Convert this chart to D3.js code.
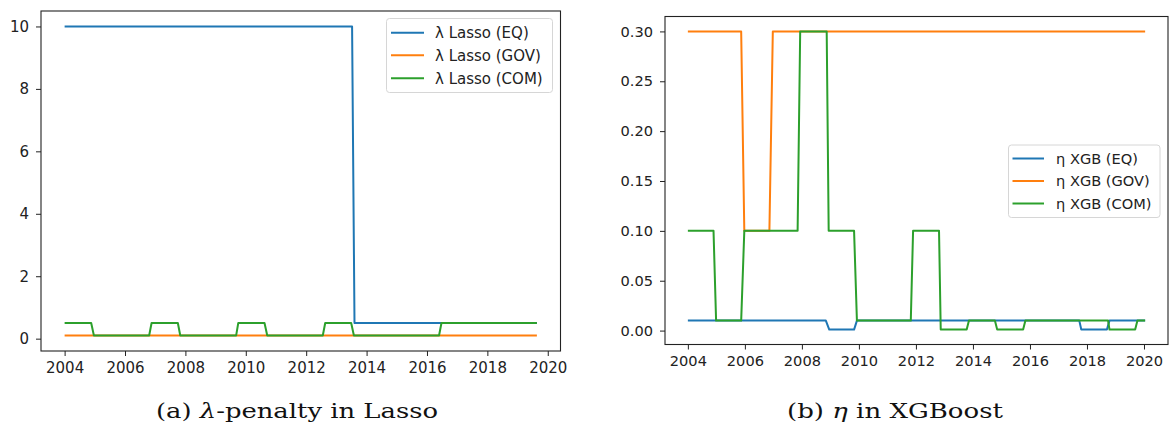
<!DOCTYPE html>
<html>
<head>
<meta charset="utf-8">
<script src="https://cdn.jsdelivr.net/npm/d3@7"></script>
<style>
  html, body { margin: 0; padding: 0; background: #fff; }
  svg { display: block; }
  .tick text { font-family: "DejaVu Sans", sans-serif; fill: #222; }
  .tick line { stroke: #222; }
</style>
</head>
<body>
<svg id="chart" width="1176" height="426"></svg>
<script>
// ---------------- DATA ----------------
// Panel (a): λ-penalty in Lasso — breakpoints (decimal year, value)
const lassoEQYears  = [2004.00, 2013.52, 2013.60, 2019.64];
const lassoEQValues = [10, 10, 0.5, 0.5];
const lassoGOVYears  = [2004.00, 2019.64];
const lassoGOVValues = [0.1, 0.1];
const lassoCOMYears  = [2004.00, 2004.88, 2004.97, 2006.80, 2006.88, 2007.75, 2007.83, 2009.68, 2009.75,
                        2010.62, 2010.71, 2012.55, 2012.63, 2013.49, 2013.58, 2016.40, 2016.48, 2019.64];
const lassoCOMValues = [0.5, 0.5, 0.1, 0.1, 0.5, 0.5, 0.1, 0.1, 0.5,
                        0.5, 0.1, 0.1, 0.5, 0.5, 0.1, 0.1, 0.5, 0.5];

// Panel (b): η in XGBoost — breakpoints (decimal year, value)
const xgbEQYears  = [2004.00, 2008.84, 2008.96, 2009.83, 2009.93, 2017.73, 2017.80, 2018.70, 2018.79, 2020.04];
const xgbEQValues = [0.01, 0.01, 0.001, 0.001, 0.01, 0.01, 0.001, 0.001, 0.01, 0.01];
const xgbGOVYears  = [2004.00, 2005.87, 2005.98, 2006.86, 2006.98, 2020.04];
const xgbGOVValues = [0.3, 0.3, 0.1, 0.1, 0.3, 0.3];
const xgbCOMYears  = [2004.00, 2004.90, 2004.99, 2005.87, 2005.98, 2007.85, 2007.94, 2008.87, 2008.94,
                      2009.83, 2009.93, 2011.82, 2011.90, 2012.81, 2012.87, 2013.78, 2013.86, 2014.77,
                      2014.85, 2015.76, 2015.84, 2018.74, 2018.79, 2019.69, 2019.77, 2020.04];
const xgbCOMValues = [0.1, 0.1, 0.01, 0.01, 0.1, 0.1, 0.3, 0.3, 0.1,
                      0.1, 0.01, 0.01, 0.1, 0.1, 0.001, 0.001, 0.01, 0.01,
                      0.001, 0.001, 0.01, 0.01, 0.001, 0.001, 0.01, 0.01];

// Tick labels
const xTickYears = [2004, 2006, 2008, 2010, 2012, 2014, 2016, 2018, 2020];
const lassoYTicks = [0, 2, 4, 6, 8, 10];
const xgbYTicks = [0.00, 0.05, 0.10, 0.15, 0.20, 0.25, 0.30];

// Legend labels
const lassoLabels = ["λ Lasso (EQ)", "λ Lasso (GOV)", "λ Lasso (COM)"];
const xgbLabels = ["η XGB (EQ)", "η XGB (GOV)", "η XGB (COM)"];
const seriesColors = ["#1f77b4", "#ff7f0e", "#2ca02c"];

// ---------------- DRAW ----------------
const svg = d3.select("#chart");

function zip(xs, ys) { return xs.map((x, i) => ({ x: x, y: ys[i] })); }

function panel(cfg) {
  const { left, right, top, bottom, xDomain, yDomain, series, yTicks, yFormat, fontSize,
          legend, labels, caption } = cfg;
  const x = d3.scaleLinear().domain(xDomain).range([left, right]);
  const y = d3.scaleLinear().domain(yDomain).range([bottom, top]);
  const g = svg.append("g");

  // lines
  const line = d3.line().x(d => x(d.x)).y(d => y(d.y));
  series.forEach((s, i) => {
    g.append("path")
      .datum(s)
      .attr("d", line)
      .attr("fill", "none")
      .attr("stroke", seriesColors[i])
      .attr("stroke-width", 2)
      .attr("stroke-linejoin", "round");
  });

  // axes
  const xAxis = d3.axisBottom(x).tickValues(xTickYears).tickFormat(d3.format("d"))
    .tickSize(5).tickPadding(6);
  const yAxis = d3.axisLeft(y).tickValues(yTicks).tickFormat(yFormat)
    .tickSize(5).tickPadding(7);
  const gx = g.append("g").attr("transform", `translate(0,${bottom})`).call(xAxis);
  const gy = g.append("g").attr("transform", `translate(${left},0)`).call(yAxis);
  [gx, gy].forEach(a => {
    a.select(".domain").remove();
    a.selectAll("text").style("font-size", fontSize + "px");
    a.selectAll("line").attr("stroke", "#222").attr("stroke-width", 1);
  });

  // frame
  g.append("rect")
    .attr("x", left).attr("y", top)
    .attr("width", right - left).attr("height", bottom - top)
    .attr("fill", "none").attr("stroke", "#222").attr("stroke-width", 1.1);

  // legend
  const lg = g.append("g");
  lg.append("rect")
    .attr("x", legend.x).attr("y", legend.y)
    .attr("width", legend.w).attr("height", legend.h)
    .attr("rx", 3).attr("ry", 3)
    .attr("fill", "#fff").attr("fill-opacity", 0.85)
    .attr("stroke", "#d6d6d6").attr("stroke-width", 1);
  labels.forEach((lab, i) => {
    const cy = legend.rowY[i];
    lg.append("line")
      .attr("x1", legend.hx1).attr("x2", legend.hx2)
      .attr("y1", cy).attr("y2", cy)
      .attr("stroke", seriesColors[i]).attr("stroke-width", 2);
    lg.append("text")
      .attr("x", legend.tx).attr("y", cy)
      .attr("dy", "0.35em")
      .style("font-family", "'DejaVu Sans', sans-serif")
      .style("font-size", fontSize + "px")
      .attr("fill", "#222")
      .text(lab);
  });

  // caption
  const ct = svg.append("text")
    .attr("x", caption.cx).attr("y", caption.y)
    .attr("text-anchor", "middle")
    .attr("textLength", caption.w)
    .attr("lengthAdjust", "spacingAndGlyphs")
    .style("font-family", "'DejaVu Serif', 'Liberation Serif', serif")
    .style("font-size", "21px")
    .attr("fill", "#111");
  caption.parts.forEach(p => {
    ct.append("tspan").style("font-style", p.italic ? "italic" : "normal").text(p.t);
  });
}

panel({
  left: 41, right: 560.5, top: 11, bottom: 351,
  xDomain: [2003.218, 2020.422], yDomain: [-0.395, 10.495],
  series: [zip(lassoEQYears, lassoEQValues), zip(lassoGOVYears, lassoGOVValues), zip(lassoCOMYears, lassoCOMValues)],
  yTicks: lassoYTicks, yFormat: d3.format("d"), fontSize: 15,
  legend: { x: 386.5, y: 18.5, w: 166, h: 74, rowY: [32.7, 55.3, 78.3], hx1: 391, hx2: 424, tx: 435 },
  labels: lassoLabels,
  caption: { cx: 297, y: 418, w: 282, parts: [{ t: "(a) " }, { t: "λ", italic: true }, { t: "-penalty in Lasso" }] }
});

panel({
  left: 665, right: 1168, top: 16.5, bottom: 344.5,
  xDomain: [2003.198, 2020.842], yDomain: [-0.01395, 0.31495],
  series: [zip(xgbEQYears, xgbEQValues), zip(xgbGOVYears, xgbGOVValues), zip(xgbCOMYears, xgbCOMValues)],
  yTicks: xgbYTicks, yFormat: d3.format(".2f"), fontSize: 14.6,
  legend: { x: 1008.5, y: 145, w: 151.5, h: 72.5, rowY: [158.5, 181, 203.5], hx1: 1012.5, hx2: 1044, tx: 1056 },
  labels: xgbLabels,
  caption: { cx: 895, y: 418, w: 216, parts: [{ t: "(b) " }, { t: "η", italic: true }, { t: " in XGBoost" }] }
});
</script>
</body>
</html>
